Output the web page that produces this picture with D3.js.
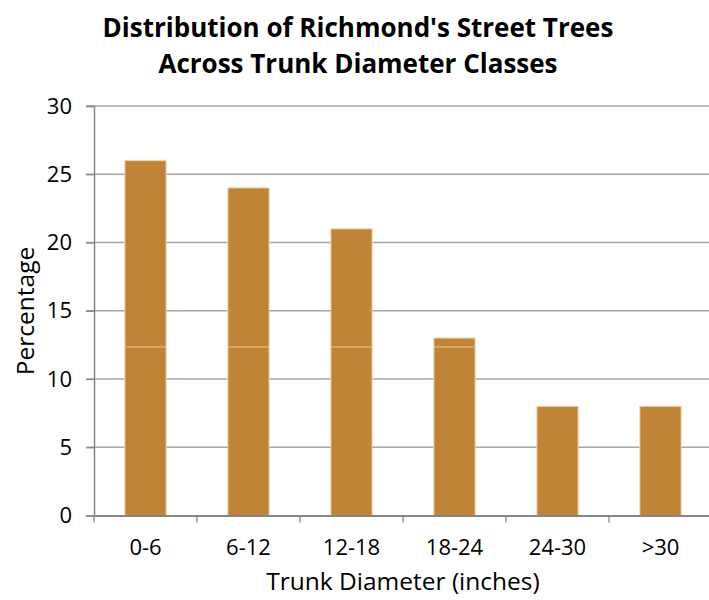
<!DOCTYPE html>
<html>
<head>
<meta charset="utf-8">
<script src="https://cdn.jsdelivr.net/npm/d3@7"></script>
<style>
  html, body { margin: 0; padding: 0; background: #fff; }
  svg { display: block; font-family: "Open Sans", "Noto Sans", sans-serif; }
</style>
</head>
<body>
<svg id="chart" width="709" height="600"></svg>
<script>
// Diameter classes and share of street trees in each (percent)
const categories = ["0-6", "6-12", "12-18", "18-24", "24-30", ">30"];
const percentages = [26, 24, 21, 13, 8, 8];
const yTicks = [0, 5, 10, 15, 20, 25, 30];
const titleLines = ["Distribution of Richmond's Street Trees", "Across Trunk Diameter Classes"];

const svg = d3.select("#chart");
const plotLeft = 94, plotTop = 106, plotBottom = 515.5;
const band = 103;
const plotRight = plotLeft + band * categories.length;

const x = d3.scaleBand().domain(categories).range([plotLeft, plotRight]).padding(0);
const y = d3.scaleLinear().domain([0, 30]).range([plotBottom, plotTop]);

// horizontal gridlines
svg.append("g")
  .selectAll("line")
  .data(yTicks.slice(1))
  .join("line")
  .attr("x1", plotLeft - 8).attr("x2", plotRight)
  .attr("y1", d => y(d)).attr("y2", d => y(d))
  .attr("stroke", "#a6a6a6").attr("stroke-width", 1.3);

// bars
const barW = x.bandwidth() * 0.4;
const rows = categories.map((c, i) => ({ c, v: percentages[i] }));
svg.append("g")
  .selectAll("rect")
  .data(rows)
  .join("rect")
  .attr("x", d => x(d.c) + (x.bandwidth() - barW) / 2)
  .attr("width", barW)
  .attr("y", d => y(d.v))
  .attr("height", d => y(0) - y(d.v))
  .attr("fill", "#c08436")
  .attr("stroke", "#edd3a8").attr("stroke-width", 1);

// faint seam across the taller bars
const seamLevel = 12.35;
svg.append("g")
  .selectAll("line")
  .data(rows.filter(d => d.v > seamLevel))
  .join("line")
  .attr("x1", d => x(d.c) + (x.bandwidth() - barW) / 2)
  .attr("x2", d => x(d.c) + (x.bandwidth() + barW) / 2)
  .attr("y1", y(seamLevel)).attr("y2", y(seamLevel))
  .attr("stroke", "#e8c690").attr("stroke-width", 1);

// y axis
const yAxis = svg.append("g")
  .attr("transform", `translate(${plotLeft},0)`)
  .call(d3.axisLeft(y).tickValues(yTicks).tickSize(8).tickPadding(14));
yAxis.select(".domain").attr("stroke", "#868686").attr("stroke-width", 1.5);
yAxis.selectAll(".tick line").attr("stroke", "#868686").attr("stroke-width", 1.3);
yAxis.selectAll(".tick text").attr("font-size", 22).attr("fill", "#000")
  .attr("font-family", "Open Sans, sans-serif");

// x axis
const xAxis = svg.append("g")
  .attr("transform", `translate(0,${plotBottom})`)
  .call(d3.axisBottom(x).tickSize(0).tickPadding(24));
xAxis.select(".domain").attr("stroke", "#868686").attr("stroke-width", 1.8);
xAxis.selectAll(".tick text").attr("font-size", 22).attr("fill", "#000")
  .attr("font-family", "Open Sans, sans-serif");
// boundary ticks between classes
xAxis.append("g")
  .selectAll("line")
  .data(d3.range(categories.length + 1))
  .join("line")
  .attr("x1", i => plotLeft + i * x.step()).attr("x2", i => plotLeft + i * x.step())
  .attr("y1", 0).attr("y2", 7)
  .attr("stroke", "#868686").attr("stroke-width", 1.3);

// titles
svg.append("g")
  .selectAll("text")
  .data(titleLines)
  .join("text")
  .attr("x", 358).attr("y", (d, i) => 37 + i * 36)
  .attr("text-anchor", "middle")
  .attr("font-size", 26).attr("font-weight", "bold").attr("fill", "#000")
  .text(d => d);

svg.append("text")
  .attr("x", 403).attr("y", 590)
  .attr("text-anchor", "middle")
  .attr("font-size", 24.5).attr("fill", "#000")
  .text("Trunk Diameter (inches)");

svg.append("text")
  .attr("transform", `translate(34,311) rotate(-90)`)
  .attr("text-anchor", "middle")
  .attr("font-size", 24.5).attr("fill", "#000")
  .text("Percentage");
</script>
</body>
</html>
